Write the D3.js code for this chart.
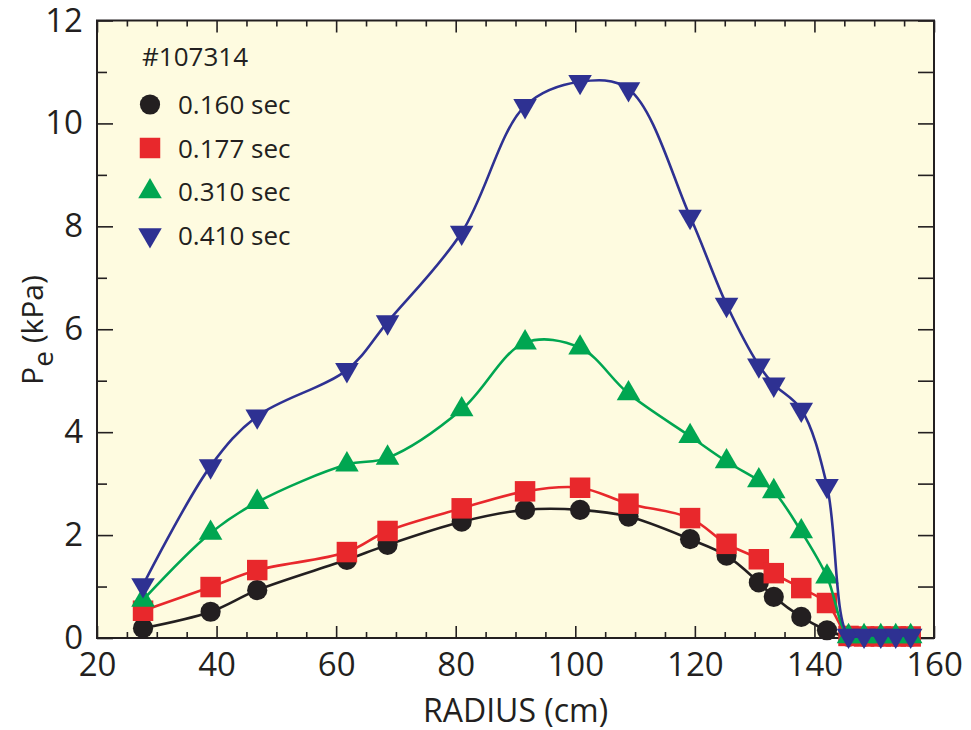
<!DOCTYPE html>
<html>
<head>
<meta charset="utf-8">
<script src="https://cdn.jsdelivr.net/npm/d3@7"></script>
<style>
  body { margin: 0; background: #ffffff; }
  svg text { font-family: "Open Sans", "Noto Sans", sans-serif; fill: #231f20; }
</style>
</head>
<body>
<div class="graph_container"></div>
<script>
// data (radius in cm, Pe in kPa)
const shotLabel = "#107314";
const seriesNames = ["0.160 sec", "0.177 sec", "0.310 sec", "0.410 sec"];
const radius = [27.7, 39.0, 46.8, 61.8, 68.6, 81.0, 91.6, 100.8, 108.9, 119.2, 125.3, 130.7, 133.2, 137.8, 142.1, 145.7, 148.3, 151.1, 153.6, 156.1];
const pe160 = [0.19, 0.51, 0.93, 1.52, 1.81, 2.26, 2.49, 2.49, 2.36, 1.92, 1.60, 1.08, 0.80, 0.41, 0.15, 0.02, 0.02, 0.02, 0.02, 0.02];
const pe177 = [0.53, 0.99, 1.32, 1.67, 2.08, 2.52, 2.85, 2.92, 2.61, 2.33, 1.83, 1.53, 1.26, 0.97, 0.68, 0.04, 0.03, 0.03, 0.03, 0.03];
const pe310 = [0.74, 2.04, 2.64, 3.37, 3.50, 4.44, 5.74, 5.64, 4.75, 3.92, 3.43, 3.06, 2.85, 2.07, 1.19, 0.03, 0.03, 0.03, 0.03, 0.03];
const pe410 = [1.03, 3.34, 4.31, 5.21, 6.14, 7.88, 10.34, 10.81, 10.67, 8.19, 6.48, 5.30, 4.93, 4.44, 2.96, 0.05, 0.05, 0.05, 0.05, 0.05];
const xTicks = [20, 40, 60, 80, 100, 120, 140, 160];
const yTicks = [0, 2, 4, 6, 8, 10, 12];

const colors = ["#231f20", "#e8282c", "#00a651", "#2e3192"];
const shapes = ["circle", "square", "up", "down"];
const allSeries = [pe160, pe177, pe310, pe410];

// dimensions
const W = 971, H = 730;
const margin = { top: 20.5, right: 37, bottom: 92, left: 97 };
const width = W - margin.left - margin.right;
const height = H - margin.top - margin.bottom;

const svg = d3.select(".graph_container").append("svg").attr("width", W).attr("height", H);
const g = svg.append("g").attr("transform", "translate(" + margin.left + "," + margin.top + ")");

const x = d3.scaleLinear().domain([20, 160]).range([0, width]);
const y = d3.scaleLinear().domain([0, 12]).range([height, 0]);

// plot background
g.append("rect").attr("width", width).attr("height", height).attr("fill", "#fefbe0");

g.append("clipPath").attr("id", "clip").append("rect").attr("width", width).attr("height", height);

// minor ticks
const xMinor = d3.range(20, 161, 5).filter((v) => v % 20 !== 0);
const yMinor = d3.range(1, 12, 2);

const tickStyle = (sel) => {
    sel.select(".domain").remove();
    sel.selectAll(".tick line").attr("stroke", "#231f20").attr("stroke-width", 1.6);
};

g.append("g").attr("transform", "translate(0," + height + ")")
    .call(d3.axisBottom(x).tickValues(xTicks).tickSize(-12).tickPadding(12).tickFormat(d3.format("d")))
    .call(tickStyle)
    .selectAll("text").attr("font-size", 33).attr("dy", "0.8em");
g.append("g").attr("transform", "translate(0," + height + ")")
    .call(d3.axisBottom(x).tickValues(xMinor).tickSize(-6).tickFormat("")).call(tickStyle);
g.append("g").call(d3.axisTop(x).tickValues(xTicks).tickSize(-12).tickFormat("")).call(tickStyle);
g.append("g").call(d3.axisTop(x).tickValues(xMinor).tickSize(-6).tickFormat("")).call(tickStyle);

g.append("g")
    .call(d3.axisLeft(y).tickValues(yTicks).tickSize(-16).tickPadding(14).tickFormat(d3.format("d")))
    .call(tickStyle)
    .selectAll("text").attr("font-size", 33);
g.append("g").call(d3.axisLeft(y).tickValues(yMinor).tickSize(-10).tickFormat("")).call(tickStyle);
g.append("g").attr("transform", "translate(" + width + ",0)")
    .call(d3.axisRight(y).tickValues(yTicks).tickSize(-16).tickFormat("")).call(tickStyle);
g.append("g").attr("transform", "translate(" + width + ",0)")
    .call(d3.axisRight(y).tickValues(yMinor).tickSize(-16).tickFormat("")).call(tickStyle);

// frame
g.append("rect").attr("width", width).attr("height", height)
    .attr("fill", "none").attr("stroke", "#231f20").attr("stroke-width", 2);

// axis titles
svg.append("text")
    .attr("x", margin.left + width / 2).attr("y", 722)
    .attr("text-anchor", "middle").attr("font-size", 32)
    .text("RADIUS (cm)");

const yTitle = svg.append("text")
    .attr("transform", "translate(43,330) rotate(-90)")
    .attr("text-anchor", "middle").attr("font-size", 30);
yTitle.append("tspan").text("P");
yTitle.append("tspan").attr("dy", 10).attr("font-size", 28).text("e");
yTitle.append("tspan").attr("dy", -10).text(" (kPa)");

// symbols
const symbolPath = (shape, size) => {
    if (shape === "circle") return d3.symbol(d3.symbolCircle, 320)();
    if (shape === "square") return d3.symbol(d3.symbolSquare, 420)();
    return d3.symbol(d3.symbolTriangle, 240)();
};

const line = d3.line()
    .x((d) => x(d[0]))
    .y((d) => y(d[1]))
    .curve(d3.curveCatmullRom.alpha(0.5));

allSeries.forEach((vals, i) => {
    const pts = radius.map((r, k) => [r, vals[k]]);
    const sg = g.append("g");
    sg.append("path").datum(pts)
        .attr("clip-path", "url(#clip)")
        .attr("d", line)
        .attr("fill", "none")
        .attr("stroke", colors[i])
        .attr("stroke-width", 2.6);
    sg.selectAll(".pt").data(pts).enter().append("path")
        .attr("d", symbolPath(shapes[i]))
        .attr("transform", (d) => "translate(" + x(d[0]) + "," + y(d[1]) + ")" + (shapes[i] === "down" ? " rotate(180)" : ""))
        .attr("fill", colors[i]);
});

// legend
svg.append("text").attr("x", 142).attr("y", 66).attr("font-size", 26).text(shotLabel);
seriesNames.forEach((name, i) => {
    const cy = 104.5 + i * 43.5;
    svg.append("path")
        .attr("d", symbolPath(shapes[i]))
        .attr("transform", "translate(150," + cy + ")" + (shapes[i] === "down" ? " rotate(180)" : ""))
        .attr("fill", colors[i]);
    svg.append("text").attr("x", 178).attr("y", cy + 9.5).attr("font-size", 26).text(name);
});
</script>
</body>
</html>
